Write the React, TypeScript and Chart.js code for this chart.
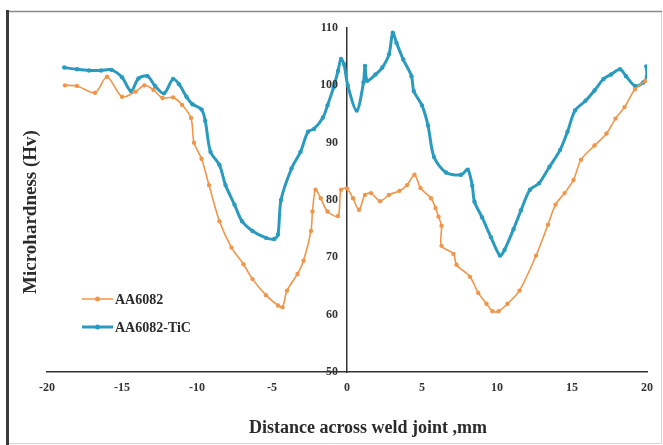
import React, { useEffect, useRef } from "react";
import { Chart, registerables } from "chart.js";

Chart.register(...registerables);

const seriesNames = ["AA6082", "AA6082-TiC"];

const xAA6082 = [
  -18.8, -18.0, -16.8, -16.0, -15.0, -14.1, -13.5, -12.9, -12.3, -11.6, -11.0, -10.4, -10.2, -9.7, -9.2,
  -8.5, -7.7, -6.9, -6.3, -5.4, -4.6, -4.3, -4.0, -3.3, -2.9, -2.4, -2.3, -2.1, -1.75, -1.3, -0.6, -0.4,
  0.0, 0.4, 0.8, 1.2, 1.6, 2.2, 2.8, 3.5, 4.0, 4.5, 4.9, 5.6, 5.9, 6.1, 6.3, 6.3, 7.1, 7.3, 8.2, 8.75,
  9.3, 9.7, 10.1, 10.7, 11.5, 12.6, 13.4, 13.9, 14.5, 15.1, 15.6, 16.5, 17.3, 17.9, 18.5, 19.2, 19.9,
];
const yAA6082 = [
  100.0, 99.9, 98.7, 101.5, 98.0, 98.9, 100.0, 99.2, 97.8, 97.9, 96.6, 94.3, 90.0, 87.2, 82.6,
  76.3, 71.7, 68.8, 66.2, 63.4, 61.6, 61.3, 64.2, 67.1, 69.4, 74.6, 78.0, 81.8, 80.3, 78.0, 77.2, 81.8,
  82.0, 80.3, 78.3, 80.9, 81.2, 79.8, 80.9, 81.6, 82.6, 84.4, 82.1, 80.3, 78.6, 77.1, 75.5, 72.0, 70.6, 68.7, 66.6, 63.8,
  61.9, 60.6, 60.6, 61.9, 64.2, 70.3, 75.7, 79.2, 81.2, 83.5, 87.0, 89.5, 91.6, 94.2, 96.2, 99.3, 100.8,
];

const xTiC = [
  -18.85, -18.0, -17.2, -16.4, -15.7, -15.0, -14.4, -13.9, -13.3, -12.8, -12.2, -11.6, -11.2, -10.7, -10.3,
  -9.7, -9.45, -9.1, -8.5, -8.1, -7.5, -7.0, -6.3, -5.4, -4.85, -4.6, -4.4, -3.7, -3.1, -2.6, -2.2, -1.6,
  -1.3, -0.9, -0.6, -0.4, -0.2, 0.05, 0.65, 1.1, 1.2, 1.35, 1.9, 2.35, 2.8, 3.05, 3.3, 3.75, 4.3, 4.45,
  5.0, 5.4, 5.8, 6.6, 7.6, 8.05, 8.35, 8.5, 9.0, 9.6, 10.2, 10.5, 11.1, 11.6, 12.2, 12.8, 13.5, 14.2,
  14.7, 15.2, 15.9, 16.5, 17.1, 17.6, 18.2, 18.6, 19.2, 19.75, 20.0, 19.95,
];
const yTiC = [
  103.1, 102.8, 102.6, 102.6, 102.7, 101.4, 99.0, 101.2, 101.6, 99.9, 98.6, 101.1, 100.2, 98.0, 96.7,
  95.8, 93.8, 88.4, 86.1, 82.6, 79.2, 76.3, 74.6, 73.4, 73.2, 74.0, 80.0, 85.5, 88.4, 91.9, 92.4, 94.4,
  96.5, 99.6, 102.5, 104.6, 103.7, 100.0, 95.6, 100.5, 103.4, 100.8, 101.9, 103.1, 105.4, 109.2, 107.4, 104.5, 101.6, 99.0,
  96.5, 93.0, 87.5, 84.8, 84.4, 85.3, 82.5, 79.7, 77.0, 73.5, 70.3, 71.3, 74.9, 78.2, 81.8, 82.9, 85.8, 88.7,
  91.9, 95.6, 97.3, 99.1, 101.1, 101.9, 102.8, 101.6, 99.9, 100.5, 101.6, 103.3,
];

const xTicks = [-20, -15, -10, -5, 0, 5, 10, 15, 20];
const yTicks = [50, 60, 70, 80, 90, 100, 110];

const xTitle = "Distance across weld joint ,mm";
const yTitle = "Microhardness (Hv)";

const ORANGE = "#F0964A";
const BLUE = "#2A9BBE";
const SERIF = "'Liberation Serif', 'Times New Roman', serif";

const decorPlugin = {
  id: "decor",
  beforeDraw(chart: any) {
    const ctx = chart.ctx;
    ctx.save();
    ctx.fillStyle = "#ffffff";
    ctx.fillRect(0, 0, chart.width, chart.height);
    ctx.strokeStyle = "#d4d4d4";
    ctx.lineWidth = 1;
    ctx.beginPath();
    ctx.moveTo(661.5, 11);
    ctx.lineTo(661.5, 443.5);
    ctx.lineTo(7, 443.5);
    ctx.stroke();
    ctx.strokeStyle = "#8a8a8a";
    ctx.lineWidth = 1.5;
    ctx.beginPath();
    ctx.moveTo(6, 11.5);
    ctx.lineTo(662, 11.5);
    ctx.stroke();
    ctx.strokeStyle = "#3a3a3a";
    ctx.lineWidth = 3;
    ctx.beginPath();
    ctx.moveTo(7.5, 10);
    ctx.lineTo(7.5, 445);
    ctx.stroke();
    ctx.restore();
  },
  afterDraw(chart: any) {
    const ctx = chart.ctx;
    const xs = chart.scales.x;
    const ys = chart.scales.y;
    ctx.save();
    // y tick labels, placed left of the y axis that sits at x = 0
    ctx.fillStyle = "#333333";
    ctx.font = `bold 12px ${SERIF}`;
    ctx.textAlign = "right";
    ctx.textBaseline = "middle";
    const axisX = xs.getPixelForValue(0);
    ys.ticks.forEach((t: any) => {
      ctx.fillText(String(t.value), axisX - 9, ys.getPixelForValue(t.value));
    });

    ctx.fillStyle = "#2b2b2b";
    ctx.font = `bold 18px ${SERIF}`;
    ctx.textAlign = "center";
    ctx.fillText(xTitle, 368, 428);
    ctx.save();
    ctx.translate(31, 212);
    ctx.rotate(-Math.PI / 2);
    ctx.font = `bold 19px ${SERIF}`;
    ctx.fillText(yTitle, 0, 0);
    ctx.restore();

    const items = [
      { name: seriesNames[0], color: ORANGE, width: 1.5, y: 299 },
      { name: seriesNames[1], color: BLUE, width: 3, y: 327 },
    ];
    items.forEach((it) => {
      ctx.strokeStyle = it.color;
      ctx.lineWidth = it.width;
      ctx.beginPath();
      ctx.moveTo(82, it.y);
      ctx.lineTo(113, it.y);
      ctx.stroke();
      ctx.fillStyle = it.color;
      ctx.beginPath();
      ctx.arc(97.5, it.y, 2.5, 0, Math.PI * 2);
      ctx.fill();
      ctx.fillStyle = "#2b2b2b";
      ctx.font = `bold 14px ${SERIF}`;
      ctx.textAlign = "left";
      ctx.fillText(it.name, 115, it.y + 1);
    });
    ctx.restore();
  },
};

export default function App() {
  const canvasRef = useRef<HTMLCanvasElement | null>(null);

  useEffect(() => {
    if (!canvasRef.current) return;
    const chart = new Chart(canvasRef.current, {
      type: "line",
      data: {
        datasets: [
          {
            label: seriesNames[0],
            data: xAA6082.map((x, i) => ({ x, y: yAA6082[i] })),
            borderColor: ORANGE,
            backgroundColor: ORANGE,
            borderWidth: 1.6,
            pointRadius: 2.2,
            pointBorderWidth: 0,
            tension: 0.3,
          },
          {
            label: seriesNames[1],
            data: xTiC.map((x, i) => ({ x, y: yTiC[i] })),
            borderColor: BLUE,
            backgroundColor: BLUE,
            borderWidth: 3,
            pointRadius: 2.2,
            pointBorderWidth: 0,
            tension: 0.3,
          },
        ],
      },
      options: {
        responsive: false,
        animation: false,
        maintainAspectRatio: false,
        layout: { padding: { left: 47, right: 16, top: 28, bottom: 0 } },
        plugins: {
          legend: { display: false },
          tooltip: { enabled: false },
        },
        scales: {
          x: {
            type: "linear",
            min: -20,
            max: 20,
            afterBuildTicks: (scale: any) => {
              scale.ticks = xTicks.map((v) => ({ value: v }));
            },
            afterFit: (scale: any) => {
              scale.height = 73;
            },
            grid: { display: false, drawTicks: false },
            border: { display: true, color: "#333333", width: 1.5 },
            ticks: {
              padding: 9,
              color: "#333333",
              font: { family: SERIF, size: 12, weight: "bold" },
              maxRotation: 0,
            },
          },
          y: {
            type: "linear",
            min: 50,
            max: 110,
            position: { x: 0 } as any,
            afterBuildTicks: (scale: any) => {
              scale.ticks = yTicks.map((v) => ({ value: v }));
            },
            grid: { display: false, drawTicks: false },
            border: { display: true, color: "#333333", width: 1.5 },
            ticks: { display: false },
          },
        },
      },
      plugins: [decorPlugin],
    });
    return () => chart.destroy();
  }, []);

  return (
    <div style={{ position: "fixed", left: 0, top: 0, width: 663, height: 445 }}>
      <canvas ref={canvasRef} width={663} height={445} style={{ width: 663, height: 445 }} />
    </div>
  );
}
